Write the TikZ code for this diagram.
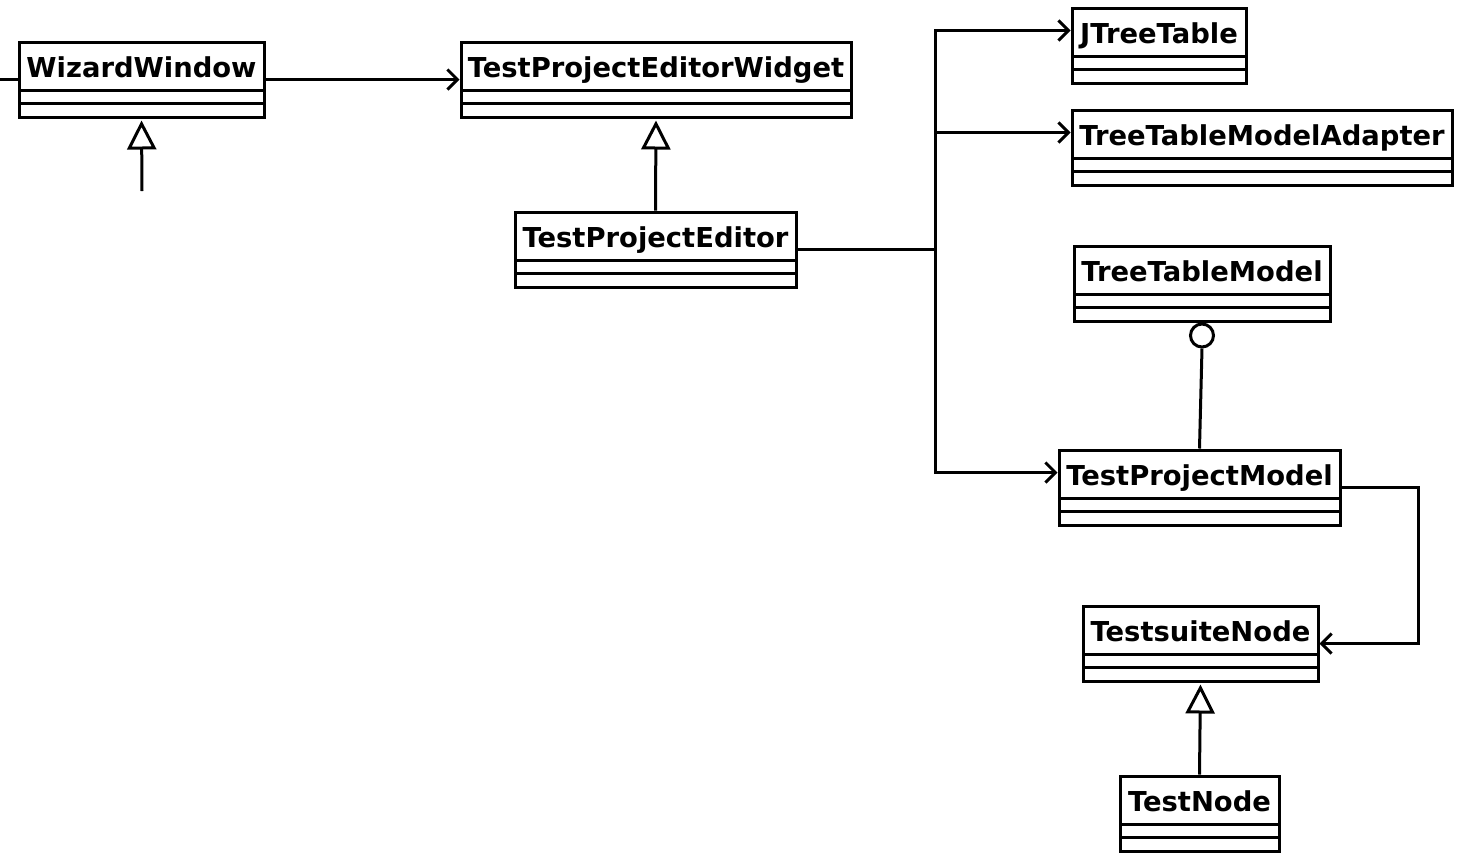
\documentclass[tikz,border=0pt]{standalone}
\usepackage{fontspec}
\setmainfont{DejaVu Sans}
\usetikzlibrary{positioning,arrows.meta}

\begin{document}
\begin{tikzpicture}[
    x=0.5pt, y=-0.5pt,
    line join=miter,
    cls/.style={rectangle, draw=black, fill=white, line width=1.5pt, anchor=north west,
      inner xsep=3pt, inner ysep=3.25pt, text height=14.25pt, text depth=16.75pt,
      font=\fontsize{13.7}{16}\selectfont\bfseries,
      path picture={
        \draw[line width=1.5pt] ([yshift=-24pt]path picture bounding box.north west)
          -- ([yshift=-24pt]path picture bounding box.north east);
        \draw[line width=1.5pt] ([yshift=-30.75pt]path picture bounding box.north west)
          -- ([yshift=-30.75pt]path picture bounding box.north east);
      }},
    link/.style={draw=black, line width=1.5pt},
    assoc/.style={link, -{Straight Barb[length=5pt,width=10pt,line width=1.5pt]}},
    inherit/.style={link, shorten >=1pt, -{Triangle[length=14.5pt,width=14.5pt,line width=1.5pt,fill=white]}},
    ball/.style={circle, draw=black, fill=white, line width=1.5pt, inner sep=0pt, minimum size=11.5pt}
]
\useasboundingbox (0,0) rectangle (1458,858);

\node[cls, minimum width=122.5pt] (ww)   at (17.5,40.5)    {WizardWindow};
\node[cls, minimum width=195pt]   (tpew) at (459.5,40.5)   {TestProjectEditorWidget};
\node[cls, minimum width=140.5pt] (tpe)  at (513.5,210.5)  {TestProjectEditor};

\node[cls, minimum width=87pt]    (jtt)  at (1070.5,6.5)   {JTreeTable};
\node[cls, minimum width=190pt]   (ttma) at (1070.5,108.5) {TreeTableModelAdapter};
\node[cls, minimum width=128pt]   (ttm)  at (1072.5,244.5) {TreeTableModel};
\node[cls, minimum width=140.5pt] (tpm)  at (1057.5,448.5) {TestProjectModel};
\node[cls, minimum width=117.5pt] (tsn)  at (1081.5,604.5) {TestsuiteNode};
\node[cls, minimum width=79.5pt]  (tn)   at (1118.5,774.5) {TestNode};

\node[ball, below=0pt of ttm.south] (ball) {};

\coordinate (lft)  at (0,79.5);
\coordinate (wsub) at (142,191);
\coordinate (bus)  at (935,249.5);

\draw[link] (lft) -- (ww.west);
\draw[assoc] (ww.east) -- (tpew.west);
\draw[inherit] (wsub) -- (ww.south);
\draw[inherit] (tpe.north) -- (tpew.south);

\draw[link] (tpe.east) -- (bus);
\draw[assoc] (bus) |- ([yshift=-12pt]jtt.north west);
\draw[assoc] (bus) |- ([yshift=-12pt]ttma.north west);
\draw[assoc] (bus) |- ([yshift=-12pt]tpm.north west);

\draw[link] (tpm.north) -- (ball.south);
\draw[assoc] (tpm.east) -- ++(77,0) |- (tsn.east);
\draw[inherit] (tn.north) -- (tsn.south);

\end{tikzpicture}
\end{document}
